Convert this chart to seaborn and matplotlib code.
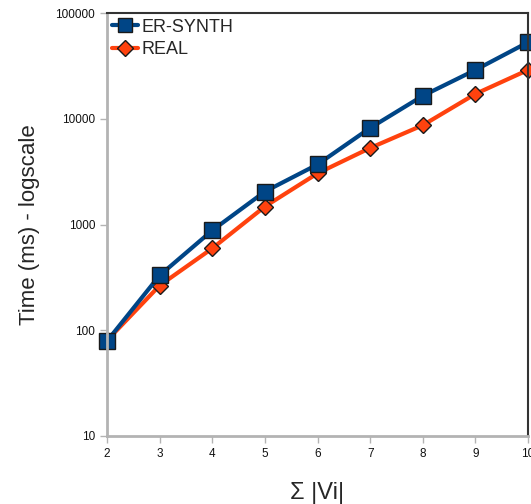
import pandas as pd
import numpy as np
import matplotlib.pyplot as plt
import seaborn as sns
from matplotlib.ticker import FixedLocator, NullLocator
from matplotlib.lines import Line2D

# data
sizes = [2, 3, 4, 5, 6, 7, 8, 9, 10]
er_synth = [79, 330, 880, 2050, 3700, 8200, 16500, 29000, 53000]
real = [80, 265, 595, 1480, 3050, 5300, 8700, 17200, 29000]

df = pd.DataFrame({
    'size': sizes * 2,
    'time': er_synth + real,
    'series': ['ER-SYNTH'] * len(sizes) + ['REAL'] * len(sizes),
})

sns.set_style('white')
plt.rcParams['font.family'] = ['Liberation Sans', 'DejaVu Sans']
fig = plt.figure(figsize=(5.31, 5.04), dpi=100)
ax = fig.add_axes([0.2015, 0.135, 0.793, 0.839])

palette = {'ER-SYNTH': '#004586', 'REAL': '#ff420e'}
markers = {'ER-SYNTH': 's', 'REAL': 'D'}
# REAL first so ER-SYNTH sits on top
sns.lineplot(data=df, x='size', y='time', hue='series', style='series',
             hue_order=['REAL', 'ER-SYNTH'], style_order=['REAL', 'ER-SYNTH'],
             palette=palette, markers=markers, dashes=False, linewidth=3,
             markersize=11, markeredgecolor='#1a1a1a', markeredgewidth=1,
             ax=ax, legend=False)
for line in ax.lines:
    if line.get_marker() == 'D':
        line.set_markersize(8)
    line.set_clip_on(False)

ax.set_yscale('log')
ax.set_ylim(10, 100000)
ax.set_xlim(2, 10)
ax.yaxis.set_major_locator(FixedLocator([10, 100, 1000, 10000, 100000]))
ax.yaxis.set_minor_locator(NullLocator())
ax.set_yticklabels(['10', '100', '1000', '10000', '100000'])
ax.set_xticks(sizes)

for s in ['left', 'bottom']:
    ax.spines[s].set_color('#b3b3b3')
    ax.spines[s].set_linewidth(2)
for s in ['top', 'right']:
    ax.spines[s].set_color('#333333')
    ax.spines[s].set_linewidth(1.5)
ax.tick_params(axis='both', which='major', direction='out', length=5,
               width=1, color='#b3b3b3', labelsize=8.5, labelcolor='#111111',
               left=True, bottom=True)

ax.set_xlabel('Σ |Vi|', fontsize=17, labelpad=16)
ax.set_ylabel('Time (ms) - logscale', fontsize=16, labelpad=11)

handles = [Line2D([], [], color=palette[k], marker=markers[k], linewidth=3,
                  markersize=10 if k == 'ER-SYNTH' else 8,
                  markeredgecolor='#1a1a1a', markeredgewidth=1)
           for k in ['ER-SYNTH', 'REAL']]
ax.legend(handles, ['ER-SYNTH', 'REAL'], loc='upper left', frameon=False,
          fontsize=13, handlelength=1.4, handletextpad=0.2,
          borderaxespad=0.0, borderpad=0.3, labelspacing=0.3)

fig.savefig('out.png', dpi=100)
